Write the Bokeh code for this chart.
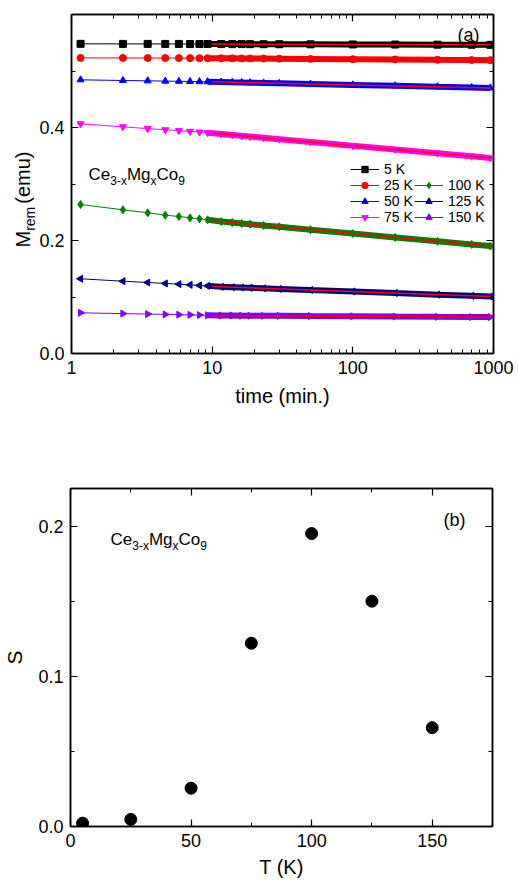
from math import pi

from bokeh.core.properties import value
from bokeh.embed import file_html
from bokeh.layouts import column, row
from bokeh.models import (ColumnDataSource, FixedTicker, Label, Legend, LegendItem,
                          LinearAxis, LogAxis, NumeralTickFormatter, Range1d,
                          SingleIntervalTicker)
from bokeh.plotting import figure
from bokeh.resources import INLINE

FONT = "Liberation Sans"

# ---------------- (a) remanent magnetisation relaxation ----------------
time_min = [1.16, 2.32, 3.48, 4.64, 5.80, 6.96, 8.12, 9.28, 11.6, 13.9,
            16.2, 18.6, 23.2, 30, 50, 100, 200, 400, 700, 950]

m_5K = [0.5481, 0.5480, 0.5480, 0.5479, 0.5479, 0.5478, 0.5478, 0.5478, 0.5477, 0.5476,
        0.5476, 0.5475, 0.5474, 0.5474, 0.5472, 0.5470, 0.5468, 0.5466, 0.5465, 0.5463]
m_25K = [0.5232, 0.5231, 0.5230, 0.5229, 0.5228, 0.5228, 0.5227, 0.5227, 0.5225, 0.5224,
         0.5222, 0.5221, 0.5220, 0.5218, 0.5214, 0.5209, 0.5204, 0.5198, 0.5194, 0.5192]
m_50K = [0.4844, 0.4832, 0.4826, 0.4821, 0.4818, 0.4815, 0.4812, 0.4810, 0.4805, 0.4800,
         0.4797, 0.4793, 0.4788, 0.4782, 0.4770, 0.4754, 0.4738, 0.4721, 0.4708, 0.4701]
m_75K = [0.4065, 0.4012, 0.3980, 0.3960, 0.3945, 0.3932, 0.3920, 0.3908, 0.3886, 0.3868,
         0.3853, 0.3840, 0.3819, 0.3794, 0.3745, 0.3678, 0.3611, 0.3545, 0.3491, 0.3461]
m_100K = [0.2637, 0.2543, 0.2490, 0.2448, 0.2425, 0.2400, 0.2383, 0.2366, 0.2335, 0.2318,
          0.2302, 0.2289, 0.2267, 0.2242, 0.2191, 0.2123, 0.2055, 0.1986, 0.1931, 0.1901]
m_125K = [0.1322, 0.1280, 0.1257, 0.1240, 0.1227, 0.1215, 0.1205, 0.1197, 0.1180, 0.1173,
          0.1167, 0.1162, 0.1153, 0.1143, 0.1123, 0.1097, 0.1069, 0.1042, 0.1020, 0.1009]
m_150K = [0.0720, 0.0706, 0.0698, 0.0692, 0.0688, 0.0684, 0.0680, 0.0677, 0.0672, 0.0671,
          0.0670, 0.0669, 0.0667, 0.0666, 0.0662, 0.0658, 0.0653, 0.0649, 0.0646, 0.0644]

# logarithmic fits (straight lines on the log time axis), end points
fit_time = [10, 950]
fit_5K = [0.5477, 0.5463]
fit_25K = [0.5226, 0.5192]
fit_50K = [0.4808, 0.4701]
fit_75K = [0.3900, 0.3461]
fit_100K = [0.2350, 0.1901]
fit_125K = [0.1186, 0.1009]
fit_150K = [0.0673, 0.0644]

series_labels = ["5 K", "25 K", "50 K", "75 K", "100 K", "125 K", "150 K"]

# ---------------- (b) magnetic viscosity vs temperature ----------------
T_K = [5, 25, 50, 75, 100, 125, 150]
S_val = [0.0022, 0.0047, 0.0255, 0.122, 0.195, 0.150, 0.0658]

x_major_a = [1, 10, 100, 1000]
x_minor_a = [d * k for d in (1, 10, 100) for k in range(2, 10)]

# Arial / Liberation Sans advance widths (em) for composed labels
ADV = {"C": 0.722, "e": 0.556, "M": 0.833, "g": 0.556, "o": 0.556, "3": 0.556,
       "-": 0.333, "x": 0.5, "9": 0.556, "r": 0.333, "m": 0.833, "(": 0.333,
       "u": 0.556, ")": 0.333}


def text_width(s, size):
    return sum(ADV.get(ch, 0.556) for ch in s) * size


def rich_text(p, pieces, x0, y0):
    """Place a run of horizontal text pieces (text, size, drop, gap) in frame pixels."""
    pos = 0.0
    for txt, size, shift, gap in pieces:
        pos += gap
        p.add_layout(Label(x=x0 + pos, y=y0 - shift, x_units="screen", y_units="screen",
                           text=txt, text_font=FONT, text_font_size=f"{size}px",
                           text_color="black", text_align="left",
                           text_baseline="alphabetic"))
        pos += text_width(txt, size)


def vertical_text(p, pieces, x0, y0):
    """Bottom-to-top run of text pieces drawn as rotated text glyphs (pixel data units)."""
    pos = 0.0
    for txt, size, shift, gap in pieces:
        pos += gap
        p.text(x=[x0 + shift], y=[y0 + pos], text=[txt], angle=pi / 2,
               text_font=value(FONT), text_font_size=f"{size}px", text_color="black",
               text_align="left", text_baseline="alphabetic")
        pos += text_width(txt, size)


def style_axis(ax, show_labels=True):
    ax.axis_line_color = "black"
    ax.axis_line_width = 1.5
    ax.major_tick_line_color = "black"
    ax.minor_tick_line_color = "black"
    ax.major_tick_line_width = 1.2
    ax.minor_tick_line_width = 1.0
    ax.major_tick_in = 7
    ax.major_tick_out = 0
    ax.minor_tick_in = 4
    ax.minor_tick_out = 0
    ax.major_label_text_font = FONT
    ax.major_label_text_color = "black"
    ax.axis_label_text_font = FONT
    ax.axis_label_text_font_style = "normal"
    ax.axis_label_text_color = "black"
    if show_labels:
        ax.major_label_text_font_size = "18px"
        ax.major_label_standoff = 7
    else:
        # mirrored frame axis: ticks only
        ax.major_label_text_font_size = "1px"
        ax.major_label_text_alpha = 0
        ax.major_label_standoff = 0


# ======================= panel (a) =======================
STRIP_W, TOP_H = 36, 445
BORDER_TOP, BORDER_BOTTOM = 14, 92
FRAME_H = TOP_H - BORDER_TOP - BORDER_BOTTOM

# narrow strip holding the composed y-axis title; its frame shares the vertical extent
# of the main frame, so data units equal pixels counted up from the frame bottom
title_a = figure(width=STRIP_W, height=TOP_H, x_range=Range1d(0, STRIP_W),
                 y_range=Range1d(0, FRAME_H), title=None, x_axis_location=None,
                 y_axis_location=None, output_backend="svg", toolbar_location=None,
                 min_border_left=0, min_border_right=0, min_border_top=BORDER_TOP,
                 min_border_bottom=BORDER_BOTTOM)
title_a.grid.visible = False
title_a.outline_line_color = None
vertical_text(title_a, [("M", 20, 0, 0), ("rem", 14, 7, 0), ("(emu)", 20, 0, 3)], 22, 106)

p1 = figure(width=518 - STRIP_W, height=TOP_H, x_axis_type="log",
            x_range=Range1d(1, 1000), y_range=Range1d(0, 0.6),
            output_backend="svg", toolbar_location=None,
            min_border_left=69 - STRIP_W, min_border_right=25, min_border_top=BORDER_TOP,
            min_border_bottom=BORDER_BOTTOM)
p1.xgrid.visible = False
p1.ygrid.visible = False
p1.outline_line_color = "black"
p1.outline_line_width = 1.5

xt_a = FixedTicker(ticks=x_major_a, minor_ticks=x_minor_a)
yt_a = SingleIntervalTicker(interval=0.2, num_minor_ticks=2)
p1.xaxis.ticker = xt_a
p1.xaxis.formatter = NumeralTickFormatter(format="0")
p1.yaxis.ticker = yt_a
p1.yaxis.formatter = NumeralTickFormatter(format="0.0")
p1.xaxis.axis_label = "time (min.)"
p1.xaxis.axis_label_text_font_size = "20px"
p1.xaxis.axis_label_standoff = 8
style_axis(p1.xaxis[0])
style_axis(p1.yaxis[0])
top_a = LogAxis(ticker=xt_a)
right_a = LinearAxis(ticker=yt_a)
style_axis(top_a, False)
style_axis(right_a, False)
p1.add_layout(top_a, "above")
p1.add_layout(right_a, "right")

styles = [
    (m_5K, fit_5K, "#000000", "square", 0.0),
    (m_25K, fit_25K, "#ff0000", "circle", 0.0),
    (m_50K, fit_50K, "#0000ff", "triangle", 0.0),
    (m_75K, fit_75K, "#ff00ff", "inverted_triangle", 0.0),
    (m_100K, fit_100K, "#008000", "diamond", 0.0),
    (m_125K, fit_125K, "#000080", "triangle", pi / 2),
    (m_150K, fit_150K, "#8000ff", "triangle", -pi / 2),
]

legend_items = []
for (vals, fit, color, marker, ang), lab in zip(styles, series_labels):
    src = ColumnDataSource(dict(t=time_min, m=vals))
    ln = p1.line("t", "m", source=src, line_color=color, line_width=1)
    # densely sampled stretch where markers merge into a band
    p1.line(time_min[7:], vals[7:], line_color=color, line_width=6)
    sc = p1.scatter("t", "m", source=src, marker=marker, size=7 if marker != "diamond" else 8,
                    angle=ang, fill_color=color, line_color=color)
    legend_items.append(LegendItem(label=lab, renderers=[ln, sc]))

for vals, fit, color, marker, ang in styles:
    p1.line(fit_time, fit, line_color="#ff0000", line_width=1.5)

leg_kw = dict(border_line_color=None, background_fill_alpha=0, padding=0, margin=0,
              spacing=0, glyph_width=29, glyph_height=16, label_height=16,
              label_standoff=5, label_text_font=FONT, label_text_font_size="14px",
              label_text_color="black")
leg1 = Legend(items=legend_items[:4], location=(279, 128), **leg_kw)
leg2 = Legend(items=legend_items[4:], location=(343, 128), **leg_kw)
p1.add_layout(leg1)
p1.add_layout(leg2)

# compound formula
formula = [("Ce", 17, 0, 0), ("3-x", 12, 6, 0), ("Mg", 17, 0, 0),
           ("x", 12, 6, 0), ("Co", 17, 0, 0), ("9", 12, 6, 0)]
rich_text(p1, formula, 17, 179)
p1.add_layout(Label(x=386, y=319, x_units="screen", y_units="screen", text="(a)",
                    text_font=FONT, text_font_size="18px", text_color="black",
                    text_baseline="alphabetic"))

# ======================= panel (b) =======================
p2 = figure(width=518, height=446, x_range=Range1d(0, 175), y_range=Range1d(0, 0.225),
            output_backend="svg", toolbar_location=None,
            min_border_left=69, min_border_right=26, min_border_top=43,
            min_border_bottom=65)
p2.xgrid.visible = False
p2.ygrid.visible = False
p2.outline_line_color = "black"
p2.outline_line_width = 1.5

xt_b = SingleIntervalTicker(interval=50, num_minor_ticks=2)
yt_b = SingleIntervalTicker(interval=0.1, num_minor_ticks=2)
p2.xaxis.ticker = xt_b
p2.yaxis.ticker = yt_b
p2.yaxis.formatter = NumeralTickFormatter(format="0.0")
p2.xaxis.axis_label = "T (K)"
p2.yaxis.axis_label = "S"
p2.xaxis.axis_label_text_font_size = "20px"
p2.yaxis.axis_label_text_font_size = "21px"
p2.xaxis.axis_label_standoff = 6
p2.yaxis.axis_label_standoff = 9
style_axis(p2.xaxis[0])
style_axis(p2.yaxis[0])
top_b = LinearAxis(ticker=xt_b)
right_b = LinearAxis(ticker=yt_b)
style_axis(top_b, False)
style_axis(right_b, False)
p2.add_layout(top_b, "above")
p2.add_layout(right_b, "right")

p2.scatter(T_K, S_val, marker="circle", size=12, fill_color="black", line_color="black")

rich_text(p2, formula, 40, 287)
p2.add_layout(Label(x=373, y=307, x_units="screen", y_units="screen", text="(b)",
                    text_font=FONT, text_font_size="18px", text_color="black",
                    text_baseline="alphabetic"))

layout = column(row(title_a, p1, spacing=0), p2, spacing=0)
open("out.html", "w").write(file_html(layout, INLINE))
